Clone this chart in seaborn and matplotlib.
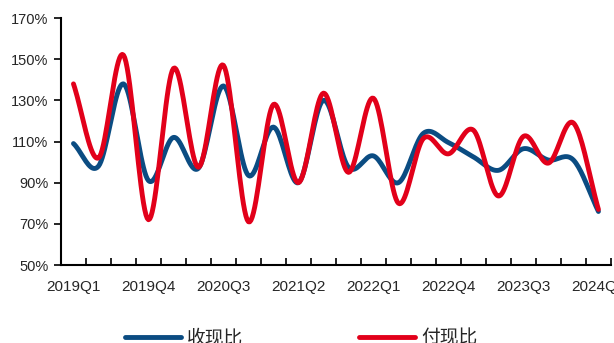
import numpy as np
import pandas as pd
import seaborn as sns
import matplotlib
matplotlib.use("Agg")
import matplotlib.pyplot as plt
from matplotlib.ticker import FixedLocator, FixedFormatter

quarters = ["2019Q1", "2019Q2", "2019Q3", "2019Q4",
            "2020Q1", "2020Q2", "2020Q3", "2020Q4",
            "2021Q1", "2021Q2", "2021Q3", "2021Q4",
            "2022Q1", "2022Q2", "2022Q3", "2022Q4",
            "2023Q1", "2023Q2", "2023Q3", "2023Q4",
            "2024Q1", "2024Q2"]

# 收现比 (%)
cash_in = [109, 98, 138, 91, 112, 97, 137, 93.5, 117, 90, 130, 97.5,
           103, 90, 114, 109.5, 102.5, 96, 106.5, 101, 101, 76]
# 付现比 (%)
cash_out = [138, 102, 152, 72, 145.5, 97.5, 147, 71, 128, 90, 133.5, 95,
            131, 80, 111.5, 104, 115.5, 83.5, 112.5, 99.5, 119, 77]

series_names = ["收现比", "付现比"]
colors = ["#0B4C82", "#E2001A"]


def smooth(y, n=20):
    # catmull-rom style smoothing like a spreadsheet "smoothed line"
    y = np.asarray(y, dtype=float)
    p = np.concatenate([[2 * y[0] - y[1]], y, [2 * y[-1] - y[-2]]])
    xs, ys = [], []
    t = np.linspace(0, 1, n, endpoint=False)
    for i in range(len(y) - 1):
        p0, p1, p2, p3 = p[i], p[i + 1], p[i + 2], p[i + 3]
        seg = 0.5 * ((2 * p1) + (-p0 + p2) * t +
                     (2 * p0 - 5 * p1 + 4 * p2 - p3) * t ** 2 +
                     (-p0 + 3 * p1 - 3 * p2 + p3) * t ** 3)
        xs.append(i + t)
        ys.append(seg)
    xs.append([len(y) - 1])
    ys.append([y[-1]])
    return np.concatenate(xs), np.concatenate(ys)


frames = []
for name, vals in zip(series_names, [cash_in, cash_out]):
    sx, sy = smooth(vals)
    frames.append(pd.DataFrame({"x": sx, "y": sy, "series": name}))
df = pd.concat(frames, ignore_index=True)

sns.set_style("ticks")
plt.rcParams["font.family"] = ["Liberation Sans", "Noto Sans CJK SC", "DejaVu Sans"]

fig = plt.figure(figsize=(6.14, 3.43), dpi=100)
ax = fig.add_axes([0.0993, 0.2274, 0.8957, 0.7201])

sns.lineplot(data=df, x="x", y="y", hue="series", palette=colors,
             hue_order=series_names, linewidth=3.5, sort=False,
             legend=False, ax=ax)

ax.set_xlim(-0.5, len(quarters) - 0.5)
ax.set_ylim(50, 170)
yt = np.arange(50, 171, 20)
ax.set_yticks(yt)
ax.set_yticklabels([f"{v}%" for v in yt], fontsize=10.5)
ax.tick_params(axis="y", direction="out", length=5, width=1.2, pad=4, color="black")

# boundary ticks pointing in, labels every 3 quarters
ax.xaxis.set_major_locator(FixedLocator(np.arange(-0.5, len(quarters), 1.0)))
ax.xaxis.set_major_formatter(FixedFormatter([""] * (len(quarters) + 1)))
lab_pos = np.arange(0, len(quarters), 3)
ax.xaxis.set_minor_locator(FixedLocator(lab_pos))
ax.xaxis.set_minor_formatter(FixedFormatter([quarters[i] for i in lab_pos]))
ax.tick_params(axis="x", which="major", direction="in", length=5, width=1.2, color="black")
ax.tick_params(axis="x", which="minor", length=0, pad=11, labelsize=11)

ax.set_xlabel("")
ax.set_ylabel("")
for s in ["top", "right"]:
    ax.spines[s].set_visible(False)
for s in ["left", "bottom"]:
    ax.spines[s].set_linewidth(1.5)
    ax.spines[s].set_color("black")

handles = [plt.Line2D([], [], color=c, linewidth=3.5) for c in colors]
fig.legend(handles, series_names, loc="center", bbox_to_anchor=(0.49, 0.012),
           ncol=2, frameon=False, fontsize=13.5, handlelength=3.0,
           columnspacing=6.2, handletextpad=0.3)

fig.savefig("out.png", dpi=100)
